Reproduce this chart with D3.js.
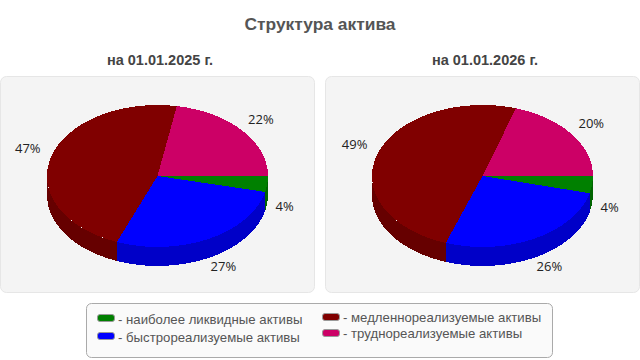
<!DOCTYPE html>
<html>
<head>
<meta charset="utf-8">
<script src="https://cdn.jsdelivr.net/npm/d3@7"></script>
<style>
  html, body { margin: 0; padding: 0; background: #fff; }
  svg { display: block; }
  text { font-family: "Liberation Sans", Arial, sans-serif; }
  .slice, .wall { shape-rendering: crispEdges; }
</style>
</head>
<body>
<svg id="chart" width="640" height="360"></svg>
<script>
const title = 'Структура актива';
const categories = [
  'наиболее ликвидные активы',
  'быстрореализуемые активы',
  'медленнореализуемые активы',
  'труднореализуемые активы',
];
const periods = ['на 01.01.2025 г.', 'на 01.01.2026 г.'];
const values2025 = [3.6, 27.4, 46.8, 22.2];
const values2026 = [3.9, 26.49, 49.49, 20.1];

const colors = ['#008000', '#0000ff', '#800000', '#cc0066'];
const wallColors = ['#006400', '#0000c8', '#660000', '#a30052'];

const svg = d3.select('#chart');
const rx = 110.5;
const ry = 71;
const depth = 19;
const k = ry / rx;
const labelFactor = 1.22;

const color = d3.scaleOrdinal().domain(categories).range(colors);
const wallColor = d3.scaleOrdinal().domain(categories).range(wallColors);

// d3.pie: 0 is up and clockwise, the slices start at 3 o'clock
const pie = d3.pie()
  .sort(null)
  .value((d) => d.value)
  .startAngle(Math.PI / 2)
  .endAngle(Math.PI / 2 + 2 * Math.PI);

const arc = d3.arc().innerRadius(0).outerRadius(rx);
const labelArc = d3.arc().innerRadius(rx * labelFactor).outerRadius(rx * labelFactor);

// side of a slice, only the part facing the viewer (drawn in the squashed group)
const wallPath = (d) => {
  const a0 = Math.max(d.startAngle, Math.PI / 2) - Math.PI / 2;
  const a1 = Math.min(d.endAngle, 3 * Math.PI / 2) - Math.PI / 2;
  if (a1 <= a0) return null;
  const p = d3.path();
  p.arc(0, 0, rx, a0, a1, false);
  p.arc(0, depth / k, rx, a1, a0, true);
  p.closePath();
  return p.toString();
};

// labels of the lower half sit below the wall
const labelX = (d) => {
  const [lx, ly] = labelArc.centroid(d);
  return ly > 0 ? lx * 0.86 + 12 : lx;
};
const labelY = (d) => {
  const ly = labelArc.centroid(d)[1] * k;
  return ly > 0 ? ly * 0.9 + 22 : ly * 0.9 - 6;
};

const drawPanel = (x, y, w, h, period, values) => {
  const g = svg.append('g').attr('transform', `translate(${x},${y})`);
  g.append('rect')
    .attr('x', 0.5).attr('y', 0.5)
    .attr('width', w).attr('height', h)
    .attr('rx', 6)
    .attr('fill', '#f4f4f4')
    .attr('stroke', '#e6e6e6');

  svg.append('text')
    .attr('x', x + w / 2 + 3)
    .attr('y', y - 11)
    .attr('text-anchor', 'middle')
    .attr('font-size', 14.5)
    .attr('font-weight', 'bold')
    .attr('fill', '#444')
    .text(period);

  const data = pie(categories.map((name, i) => ({ name, value: values[i] })));
  const cx = 157.5;
  const cy = 100;
  const flat = g.append('g').attr('transform', `translate(${cx},${cy}) scale(1,${k})`);

  flat.selectAll('path.wall')
    .data(data)
    .join('path')
    .attr('class', 'wall')
    .attr('d', wallPath)
    .attr('fill', (d) => wallColor(d.data.name));

  flat.selectAll('path.slice')
    .data(data)
    .join('path')
    .attr('class', 'slice')
    .attr('d', arc)
    .attr('fill', (d) => color(d.data.name));

  g.selectAll('text.value')
    .data(data)
    .join('text')
    .attr('class', 'value')
    .attr('x', (d) => cx + labelX(d))
    .attr('y', (d) => cy + labelY(d) + 4)
    .attr('text-anchor', 'middle')
    .attr('font-size', 13)
    .attr('fill', '#222')
    .style('font-family', '"Open Sans", sans-serif')
    .text((d) => `${d3.format('.0f')(d.data.value)}%`);
};

svg.append('text')
  .attr('x', 320).attr('y', 30)
  .attr('text-anchor', 'middle')
  .attr('font-size', 17.4)
  .attr('font-weight', 'bold')
  .attr('fill', '#555')
  .text(title);

drawPanel(0, 76, 314, 216, periods[0], values2025);
drawPanel(325, 76, 314, 216, periods[1], values2026);

// legend
const legend = svg.append('g');
legend.append('rect')
  .attr('x', 86.5).attr('y', 303.5)
  .attr('width', 466).attr('height', 54)
  .attr('rx', 5)
  .attr('fill', '#fafafa')
  .attr('stroke', '#aaa');

const legendCol = d3.scaleOrdinal().domain([0, 1]).range([97, 322]);
const legendRow = [[318, 336], [317, 333]];

categories.forEach((name, i) => {
  const col = i < 2 ? 0 : 1;
  const row = i % 2;
  const x = legendCol(col);
  const y = legendRow[col][row];
  legend.append('rect')
    .attr('x', x + 0.5).attr('y', y - 3.5)
    .attr('width', 17).attr('height', 7)
    .attr('rx', 2.5)
    .attr('fill', color(name))
    .attr('stroke', '#999');
  legend.append('text')
    .attr('x', x + 21).attr('y', y + (col === 0 ? 5.5 : 5))
    .attr('font-size', 13.2)
    .attr('fill', '#555')
    .text(`- ${name}`);
});
</script>
</body>
</html>
